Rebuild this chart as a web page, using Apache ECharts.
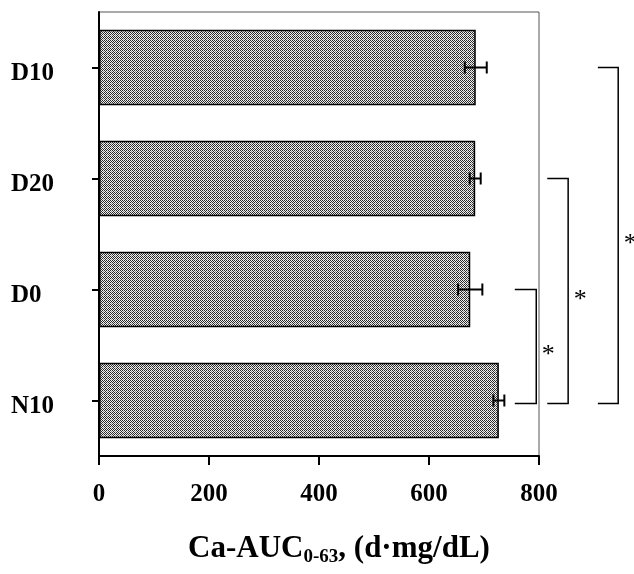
<!DOCTYPE html>
<html>
<head>
<meta charset="utf-8">
<script src="https://cdn.jsdelivr.net/npm/echarts@6/dist/echarts.min.js"></script>
<style>
html,body{margin:0;padding:0;background:#fff;}
#main{width:634px;height:574px;}
</style>
</head>
<body>
<div id="main"></div>
<script>
// ---- data (bottom to top, as drawn on the category axis) ----
var categories = ['N10', 'D0', 'D20', 'D10'];
var means = [727, 675, 684, 685];
var errors = [10, 22, 10, 20];
var xTicks = [0, 200, 400, 600, 800];
// significance comparisons: [from, to, label]
var comparisons = [
  ['N10', 'D0', '*'],
  ['N10', 'D20', '*'],
  ['N10', 'D10', '*']
];

// ---- styling / layout ----
var FONT = '"Liberation Serif","Times New Roman",serif';
var bracketLayout = [ // x extents (axis units) of each bracket, drawn outside the plot
  [756, 795],
  [815, 853],
  [907, 944]
];

function makePattern() {
  var c = document.createElement('canvas');
  c.width = 4; c.height = 4;
  var ctx = c.getContext('2d');
  ctx.fillStyle = '#efefef';
  ctx.fillRect(0, 0, 4, 4);
  ctx.fillStyle = '#2a2a2a';
  var px = [[0,0],[2,0],[1,1],[3,1],[0,2],[2,2],[1,3]];
  px.forEach(function (p) { ctx.fillRect(p[0], p[1], 1, 1); });
  ctx.fillStyle = '#888';
  ctx.fillRect(3, 3, 1, 1);
  return c;
}

var errData = categories.map(function (c, i) {
  return [means[i] - errors[i], means[i] + errors[i], i];
});

var bracketData = comparisons.map(function (cmp, k) {
  return [bracketLayout[k][0], bracketLayout[k][1],
          categories.indexOf(cmp[0]), categories.indexOf(cmp[1]), k];
});

var chart = echarts.init(document.getElementById('main'), null, {renderer: 'canvas'});

chart.setOption({
  animation: false,
  backgroundColor: '#fff',
  grid: {
    left: 99, right: 95, top: 12, bottom: 118,
    outerBoundsMode: 'none', containLabel: false,
    show: true, borderColor: '#555', borderWidth: 1, backgroundColor: 'transparent'
  },
  xAxis: {
    type: 'value',
    min: xTicks[0], max: xTicks[xTicks.length - 1], interval: 200,
    axisLine: {show: true, lineStyle: {color: '#000', width: 2}},
    axisTick: {show: true, inside: false, length: 9, lineStyle: {color: '#000', width: 2}},
    splitLine: {show: false},
    axisLabel: {
      margin: 26, color: '#000', fontFamily: FONT, fontWeight: 'bold', fontSize: 25,
      formatter: function (v) { return xTicks.indexOf(v) >= 0 ? String(v) : ''; }
    },
    name: '{a|Ca-AUC}{s|0-63}{a|, (d\u00b7mg/dL)}',
    nameLocation: 'middle',
    nameGap: 75,
    nameTextStyle: {
      padding: [0, 0, 0, 40],
      rich: {
        a: {fontFamily: FONT, fontWeight: 'bold', fontSize: 31, color: '#000', lineHeight: 36},
        s: {fontFamily: FONT, fontWeight: 'bold', fontSize: 19, color: '#000', lineHeight: 36, padding: [16, 0, 0, 0]}
      }
    }
  },
  yAxis: {
    type: 'category',
    data: categories,
    axisLine: {show: true, lineStyle: {color: '#000', width: 2}},
    axisTick: {show: true, alignWithLabel: true, length: 7, lineStyle: {color: '#000', width: 2}},
    axisLabel: {
      margin: 88, align: 'left', verticalAlign: 'top', lineHeight: 13,
      color: '#000', fontFamily: FONT, fontWeight: 'bold', fontSize: 25
    },
    splitLine: {show: false}
  },
  series: [
    {
      type: 'bar',
      data: means,
      barWidth: '68%',
      itemStyle: {
        color: {image: makePattern(), repeat: 'repeat'},
        borderColor: '#000', borderWidth: 1.5
      },
      z: 2
    },
    {
      type: 'custom',
      data: errData,
      z: 5,
      renderItem: function (params, api) {
        var lo = api.coord([api.value(0), api.value(2)]);
        var hi = api.coord([api.value(1), api.value(2)]);
        var y = lo[1], cap = 6;
        var st = {stroke: '#000', lineWidth: 2};
        return {
          type: 'group',
          children: [
            {type: 'line', shape: {x1: lo[0], y1: y, x2: hi[0], y2: y}, style: st},
            {type: 'line', shape: {x1: lo[0], y1: y - cap, x2: lo[0], y2: y + cap}, style: st},
            {type: 'line', shape: {x1: hi[0], y1: y - cap, x2: hi[0], y2: y + cap}, style: st}
          ]
        };
      }
    },
    {
      type: 'custom',
      data: bracketData,
      clip: false,
      z: 5,
      renderItem: function (params, api) {
        var x1 = api.value(0), x2 = api.value(1);
        var pA = api.coord([x1, api.value(2)]);
        var pB = api.coord([x2, api.value(2)]);
        var pC = api.coord([x1, api.value(3)]);
        var yBot = pA[1] + 3, yTop = pC[1];
        var xl = pA[0], xr = pB[0];
        var st = {stroke: '#000', lineWidth: 1.5, fill: null};
        var k = api.value(4);
        return {
          type: 'group',
          children: [
            {type: 'polyline', shape: {points: [[xl, yTop], [xr, yTop], [xr, yBot], [xl, yBot]]}, style: st},
            {type: 'text', style: {
              text: comparisons[k][2], x: xr + 12, y: (yTop + yBot) / 2 + 9,
              align: 'center', verticalAlign: 'middle',
              font: '26px ' + FONT, fill: '#000'
            }}
          ]
        };
      }
    }
  ]
});
</script>
</body>
</html>
